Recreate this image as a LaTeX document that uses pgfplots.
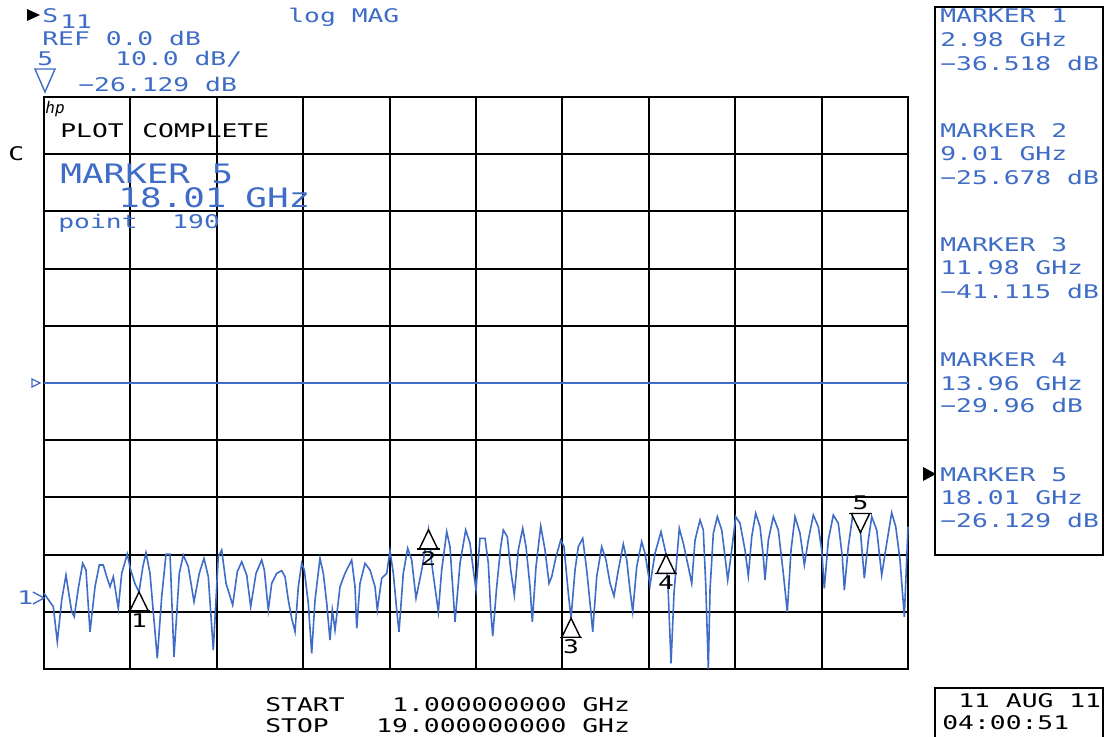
\documentclass[border=0pt]{standalone}
\usepackage{pgfplots}
\pgfplotsset{compat=1.18}
\usepackage{graphicx}
\usepackage{fontspec}
\setmainfont{DejaVu Sans Mono}
\definecolor{hpblue}{RGB}{62,108,198}
\newcommand{\hs}[1]{\scalebox{1.4}[1]{\fontsize{9.4bp}{10bp}\selectfont #1}}
\newcommand{\hb}[1]{\scalebox{1.34}[1]{\fontsize{13.4bp}{14bp}\selectfont #1}}
\pgfdeclareplotmark{mkup}{%
  \pgfpathmoveto{\pgfpointorigin}%
  \pgfpathlineto{\pgfpoint{-4.6bp}{-9.5bp}}%
  \pgfpathlineto{\pgfpoint{4.6bp}{-9.5bp}}%
  \pgfpathclose\pgfusepathqfillstroke
  \pgfpathmoveto{\pgfpoint{-5.6bp}{-9.5bp}}%
  \pgfpathlineto{\pgfpoint{5.6bp}{-9.5bp}}%
  \pgfusepathqstroke}
\pgfdeclareplotmark{mkdown}{%
  \pgfpathmoveto{\pgfpointorigin}%
  \pgfpathlineto{\pgfpoint{-4.6bp}{9.5bp}}%
  \pgfpathlineto{\pgfpoint{4.6bp}{9.5bp}}%
  \pgfpathclose\pgfusepathqfillstroke
  \pgfpathmoveto{\pgfpoint{-5.6bp}{9.5bp}}%
  \pgfpathlineto{\pgfpoint{5.6bp}{9.5bp}}%
  \pgfusepathqstroke}
\begin{document}
\begin{tikzpicture}
\begin{axis}[at={(22bp,-334.5bp)}, anchor=south west, scale only axis,
  width=432bp, height=286bp,
  xmin=1, xmax=19, ymin=-50, ymax=50,
  xtick={1,2.8,4.6,6.4,8.2,10,11.8,13.6,15.4,17.2,19},
  ytick={-50,-40,-30,-20,-10,0,10,20,30,40,50},
  xticklabels={}, yticklabels={}, major tick length=0pt,
  grid=major, major grid style={black, line width=1bp},
  axis line style={black, line width=1bp},
  clip=false]
\addplot[hpblue, line width=0.8bp] coordinates {(1,0)(19,0)};
\addplot[hpblue, line width=0.8bp] coordinates {
(1.000,-36.77)(1.194,-39.11)(1.277,-45.23)(1.369,-37.94)(1.458,-33.57)(1.527,-37.36)(1.577,-39.98)(1.631,-40.86)(1.715,-35.89)(1.806,-31.52)(1.875,-32.69)(1.958,-43.48)(2.063,-35.61)(2.152,-31.82)(2.235,-31.82)(2.306,-33.86)(2.375,-35.61)(2.444,-33.86)(2.548,-39.39)(2.619,-33.27)(2.735,-29.90)(2.806,-32.69)(2.90,-35.2)(2.98,-36.52)(3.06,-32.1)(3.125,-29.67)(3.208,-33.27)(3.360,-48.13)(3.452,-37.36)(3.542,-29.90)(3.625,-29.90)(3.708,-47.85)(3.819,-33.27)(3.902,-30.07)(4.006,-32.12)(4.125,-38.23)(4.235,-33.27)(4.333,-30.65)(4.423,-33.86)(4.527,-46.68)(4.631,-30.37)(4.702,-29.20)(4.792,-35.02)(4.931,-38.81)(5.027,-32.99)(5.119,-31.24)(5.223,-33.57)(5.306,-39.11)(5.417,-33.27)(5.535,-30.94)(5.590,-32.69)(5.673,-39.69)(5.744,-35.02)(5.848,-33.27)(5.952,-32.81)(6.021,-33.86)(6.090,-37.94)(6.160,-41.14)(6.229,-43.48)(6.298,-35.61)(6.369,-31.52)(6.423,-32.69)(6.506,-38.51)(6.577,-47.26)(6.646,-37.94)(6.750,-30.65)(6.819,-33.27)(6.890,-38.51)(6.958,-44.93)(7.006,-39.69)(7.063,-43.18)(7.167,-35.61)(7.271,-33.27)(7.410,-30.94)(7.479,-35.61)(7.515,-42.88)(7.583,-35.02)(7.688,-31.52)(7.792,-32.69)(7.896,-35.61)(7.944,-39.69)(8.035,-34.14)(8.140,-33.27)(8.208,-29.32)(8.277,-33.27)(8.348,-39.69)(8.396,-43.48)(8.485,-33.27)(8.577,-28.90)(8.660,-30.94)(8.750,-37.64)(8.869,-32.69)(9.010,-25.68)(9.077,-31.52)(9.215,-39.98)(9.285,-32.69)(9.390,-26.00)(9.458,-28.62)(9.563,-41.73)(9.667,-31.52)(9.785,-25.70)(9.875,-28.02)(9.944,-32.69)(10.000,-36.19)(10.083,-27.15)(10.188,-27.15)(10.256,-31.52)(10.306,-39.69)(10.348,-44.23)(10.431,-35.61)(10.515,-28.62)(10.569,-25.70)(10.652,-26.87)(10.723,-32.69)(10.798,-37.06)(10.881,-29.20)(10.973,-25.40)(11.042,-28.62)(11.125,-35.61)(11.173,-41.73)(11.250,-32.12)(11.348,-25.00)(11.438,-29.20)(11.521,-35.02)(11.577,-33.86)(11.667,-30.37)(11.765,-27.45)(11.833,-28.62)(11.923,-36.77)(11.980,-41.12)(12.063,-32.69)(12.131,-28.62)(12.223,-27.15)(12.306,-32.69)(12.390,-39.69)(12.431,-43.48)(12.515,-33.86)(12.619,-28.62)(12.708,-30.94)(12.792,-35.02)(12.875,-37.24)(12.965,-32.69)(13.069,-28.15)(13.140,-30.94)(13.208,-36.19)(13.265,-39.98)(13.348,-32.12)(13.452,-27.74)(13.521,-29.77)(13.625,-35.31)(13.729,-29.77)(13.854,-26.00)(13.960,-29.96)(14.006,-36.77)(14.063,-49.00)(14.125,-36.77)(14.235,-25.40)(14.319,-28.02)(14.423,-32.12)(14.494,-35.02)(14.563,-27.45)(14.667,-23.95)(14.735,-25.70)(14.785,-35.02)(14.840,-50.00)(14.875,-36.19)(14.944,-26.28)(15.027,-23.37)(15.119,-25.70)(15.188,-30.37)(15.244,-34.44)(15.327,-29.20)(15.410,-23.37)(15.500,-24.53)(15.604,-29.20)(15.673,-33.74)(15.744,-26.87)(15.827,-22.78)(15.917,-25.12)(15.985,-30.37)(16.021,-34.44)(16.090,-27.45)(16.194,-23.37)(16.298,-25.70)(16.402,-33.27)(16.485,-39.98)(16.563,-29.20)(16.646,-23.37)(16.750,-26.28)(16.840,-31.82)(16.923,-27.45)(17.027,-23.08)(17.131,-25.12)(17.202,-29.20)(17.256,-35.89)(17.340,-27.45)(17.444,-23.08)(17.548,-24.53)(17.631,-30.37)(17.673,-36.19)(17.756,-28.62)(17.848,-23.08)(17.931,-24.53)(18.010,-26.13)(18.090,-34.14)(18.173,-27.45)(18.244,-23.37)(18.348,-25.70)(18.452,-33.57)(18.556,-28.02)(18.660,-22.67)(18.744,-25.12)(18.833,-30.94)(18.923,-40.86)(19.000,-25.12)};
\addplot[only marks, mark=mkup, mark options={draw=black, fill=white, line width=0.7bp},
  point meta=explicit symbolic, nodes near coords={\hs{\pgfplotspointmeta}},
  every node near coord/.append style={anchor=north, inner sep=0pt, yshift=-10.5bp, text=black}]
  coordinates {(2.98,-36.518) [1] (9.01,-25.678) [2] (11.98,-41.115) [3] (13.96,-29.96) [4]};
\addplot[only marks, mark=mkdown, mark options={draw=black, fill=white, line width=0.7bp},
  point meta=explicit symbolic, nodes near coords={\hs{\pgfplotspointmeta}},
  every node near coord/.append style={anchor=south, inner sep=0pt, yshift=11bp, text=black}]
  coordinates {(18.01,-26.129) [5]};
\end{axis}
\begin{scope}[x=0.5bp,y=-0.5bp]
\path[use as bounding box] (0,0) rectangle (1105,737);
% header
\fill[black] (27,9) -- (40,15) -- (27,21) -- cycle;
\node[anchor=base west, inner sep=0, text=hpblue] at (42,22) {\hs{S}};
\node[anchor=base west, inner sep=0, text=hpblue] at (60,28) {\hs{11}};
\node[anchor=base west, inner sep=0, text=hpblue] at (288,22) {\hs{log MAG}};
\node[anchor=base west, inner sep=0, text=hpblue] at (42,45) {\hs{REF 0.0 dB}};
\node[anchor=base west, inner sep=0, text=hpblue] at (37,65) {\hs{5}};
\node[anchor=base west, inner sep=0, text=hpblue] at (115,65) {\hs{10.0 dB/}};
\draw[hpblue, line width=0.7bp] (35,69) -- (55,69) -- (45,92) -- cycle;
\node[anchor=base west, inner sep=0, text=hpblue] at (78,92) {\hs{−26.129 dB}};
\node[anchor=base west, inner sep=0, text=black] at (45,113) {\fontsize{8bp}{8bp}\selectfont\itshape hp};
\node[anchor=base west, inner sep=0, text=black] at (60,137) {\hs{PLOT}};
\node[anchor=base west, inner sep=0, text=black] at (142,137) {\hs{COMPLETE}};
\node[anchor=base west, inner sep=0, text=black] at (8,160) {\hs{C}};
\node[anchor=base west, inner sep=0, text=hpblue] at (60,183) {\hb{MARKER 5}};
\node[anchor=base west, inner sep=0, text=hpblue] at (118,207) {\hb{18.01}};
\node[anchor=base west, inner sep=0, text=hpblue] at (245,207) {\hb{GHz}};
\node[anchor=base west, inner sep=0, text=hpblue] at (58,228) {\hs{point}};
\node[anchor=base west, inner sep=0, text=hpblue] at (172,228) {\hs{190}};
% left markers
\draw[hpblue, line width=0.6bp] (32,379) -- (40,383) -- (32,387) -- cycle;
\node[anchor=base west, inner sep=0, text=hpblue] at (17,604) {\hs{1}};
\draw[hpblue, line width=0.7bp] (33,592) -- (44,598) -- (33,604);
% right panel
\draw[black, line width=1bp] (935,7) rectangle (1103,555);
\foreach \t/\yy in {{MARKER 1}/22,{2.98 GHz}/46,{−36.518 dB}/70,
  {MARKER 2}/137,{9.01 GHz}/160,{−25.678 dB}/184,
  {MARKER 3}/251,{11.98 GHz}/274,{−41.115 dB}/298,
  {MARKER 4}/366,{13.96 GHz}/390,{−29.96 dB}/412,
  {MARKER 5}/481,{18.01 GHz}/504,{−26.129 dB}/527}
  \node[anchor=base west, inner sep=0, text=hpblue] at (940,\yy) {\hs{\t}};
\fill[black] (923,467) -- (936,474) -- (923,481) -- cycle;
% bottom
\node[anchor=base west, inner sep=0, text=black] at (265,711) {\hs{START}};
\node[anchor=base west, inner sep=0, text=black] at (392,711) {\hs{1.000000000 GHz}};
\node[anchor=base west, inner sep=0, text=black] at (265,732) {\hs{STOP}};
\node[anchor=base west, inner sep=0, text=black] at (376,732) {\hs{19.000000000 GHz}};
\draw[black, line width=1bp] (935,737) -- (935,688) -- (1103,688) -- (1103,737);
\node[anchor=base west, inner sep=0, text=black] at (958,707) {\hs{11 AUG 11}};
\node[anchor=base west, inner sep=0, text=black] at (942,729) {\hs{04:00:51}};
\end{scope}
\end{tikzpicture}
\end{document}
